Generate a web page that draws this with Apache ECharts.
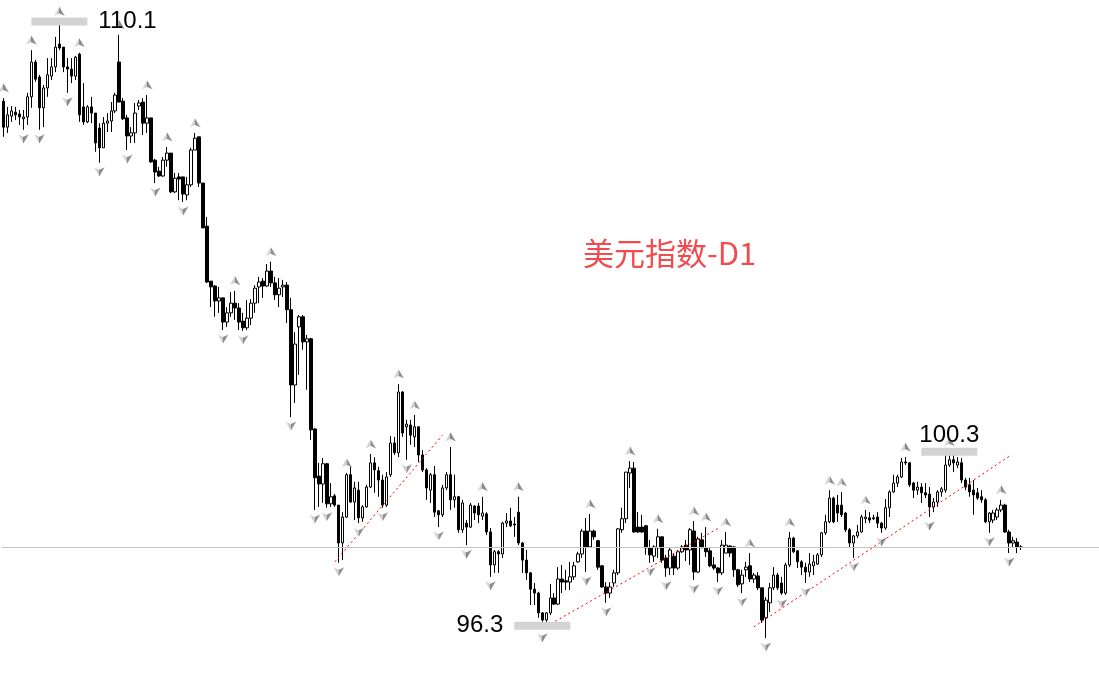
<!DOCTYPE html>
<html><head><meta charset="utf-8">
<script src="https://cdn.jsdelivr.net/npm/echarts@6/dist/echarts.min.js"></script>
<style>html,body{margin:0;padding:0;background:#fff}#chart{width:1099px;height:676px}</style>
</head><body><div id="chart"></div>
<script>
// ---- data (US Dollar Index, daily) ----
const opens = [
108.29,107.70,107.95,108.04,108.00,107.89,107.93,108.39,109.18,108.84,
108.14,108.59,108.86,109.07,109.59,109.52,109.07,109.02,108.86,109.36,
108.16,107.82,108.16,108.02,107.68,107.23,107.79,107.84,108.07,109.18,
108.29,107.91,107.50,107.57,108.18,108.27,107.79,107.91,106.95,106.70,
106.59,106.95,107.11,106.23,106.57,106.57,106.16,106.39,107.18,107.48,
106.43,105.45,104.20,104.09,103.75,103.82,103.27,103.48,103.70,103.59,
103.29,103.14,103.36,103.70,104.07,104.20,104.09,104.43,104.16,103.89,
104.07,104.11,103.55,101.84,103.16,103.39,102.82,102.89,100.84,99.77,
99.59,100.05,99.14,99.32,99.11,98.25,98.84,99.80,99.18,99.45,
98.82,99.07,99.52,100.07,99.89,99.68,99.11,99.80,100.52,100.30,
101.68,100.89,100.93,100.66,100.89,100.25,99.91,99.45,99.80,98.98,
98.89,99.50,99.80,99.23,99.30,98.55,98.70,98.61,99.09,99.09,
98.86,98.91,98.50,97.75,98.05,98.00,98.70,98.75,98.68,98.95,
98.25,97.86,97.57,97.20,97.11,96.66,96.50,96.66,97.00,96.86,
97.43,97.39,97.36,97.48,97.82,98.00,98.52,98.16,98.52,98.30,
97.73,97.25,97.11,97.34,97.57,98.55,98.80,99.84,99.95,98.61,
98.61,98.64,98.14,97.95,98.14,98.39,97.91,97.68,97.95,97.68,
98.05,98.20,98.09,98.52,97.59,98.32,98.14,98.07,97.75,97.68,
97.57,98.02,98.18,98.16,97.64,97.32,97.64,97.73,97.43,97.50,
97.23,96.55,96.89,97.23,97.52,97.34,97.11,97.75,98.36,98.07,
97.82,97.70,97.59,97.73,97.77,97.98,98.48,98.73,99.27,99.11,
99.11,98.93,98.55,98.25,98.41,98.50,98.80,98.82,98.82,98.84,
98.70,98.59,99.05,99.41,99.61,99.75,100.09,100.07,99.61,99.45,
99.52,99.39,99.36,99.07,99.18,99.41,99.45,100.02,100.14,100.02,
100.07,99.68,99.57,99.45,99.39,99.30,99.23,98.73,98.77,98.84,
99.00,99.11,98.50,98.25,98.27,98.16
];
const closes = [
107.70,107.98,108.07,107.98,107.93,107.93,108.39,109.18,108.79,108.14,
108.59,108.89,109.07,109.52,109.50,109.07,109.02,108.86,109.29,107.98,
107.82,108.16,108.02,107.34,107.23,107.79,107.84,108.07,108.43,108.27,
107.89,107.50,107.57,108.02,108.25,107.79,107.91,106.91,106.68,106.59,
106.95,107.11,106.23,106.54,106.52,106.18,106.39,107.18,107.45,106.43,
105.41,104.18,104.07,103.75,103.82,103.27,103.48,103.70,103.59,103.27,
103.14,103.36,103.70,104.04,104.18,104.09,104.43,104.16,103.89,104.04,
104.11,103.55,101.84,102.77,103.39,102.82,102.89,100.82,99.73,99.59,
100.05,99.14,99.30,99.11,98.25,98.84,99.80,99.18,99.50,98.82,
99.07,99.52,100.07,99.91,99.68,99.11,99.75,100.52,100.30,101.68,
100.75,100.95,100.70,100.89,100.25,99.91,99.50,99.80,98.95,98.89,
99.50,99.80,99.23,99.30,98.55,99.16,98.61,99.11,98.93,98.89,
98.93,98.50,97.75,98.05,98.00,98.70,98.75,98.64,98.66,98.25,
97.86,97.57,97.20,97.11,96.66,96.50,96.66,97.00,96.86,97.43,
97.36,97.36,97.48,97.73,98.00,98.52,98.16,98.52,98.39,97.70,
97.25,97.11,97.25,97.57,98.57,98.80,99.86,99.95,98.50,98.50,
98.50,98.14,97.98,98.16,98.39,97.86,97.68,98.09,97.68,98.05,
98.16,98.09,98.55,97.59,98.34,98.14,98.05,97.73,97.68,97.57,
98.20,98.20,98.02,97.64,97.30,97.52,97.70,97.43,97.52,97.23,
96.50,96.95,97.23,97.52,97.23,97.11,97.75,98.36,98.05,97.82,
97.70,97.59,97.77,97.82,97.98,98.48,98.73,99.27,98.73,98.93,
98.89,98.55,98.25,98.41,98.50,98.84,98.84,98.77,98.80,98.70,
98.59,99.05,99.41,99.61,99.75,100.09,100.07,99.57,99.45,99.52,
99.39,99.34,99.07,99.18,99.41,99.48,100.02,100.14,100.07,100.09,
99.68,99.52,99.41,99.34,99.27,99.23,98.73,98.93,98.93,99.00,
99.11,98.50,98.25,98.30,98.16,98.15
];
const lows = [
107.48,107.57,107.82,107.86,107.75,107.64,107.75,108.14,108.73,107.64,
107.70,108.39,108.77,108.95,109.45,108.95,108.48,108.70,108.77,107.82,
107.75,107.79,107.79,107.14,106.89,107.23,107.59,107.59,108.02,108.27,
107.86,107.18,107.34,107.34,108.09,107.52,107.57,106.89,106.43,106.57,
106.57,106.80,106.20,106.20,106.04,106.00,106.04,106.34,107.18,106.34,
105.41,104.16,103.61,103.39,103.48,103.09,103.16,103.39,103.32,103.09,
103.07,103.09,103.20,103.48,103.70,103.82,104.07,104.07,103.77,103.61,
103.84,103.25,101.11,101.43,102.07,102.64,101.73,100.59,99.00,99.07,
99.16,99.05,99.07,99.07,97.80,97.86,98.82,99.16,98.77,98.70,
98.73,99.05,99.50,99.39,99.30,99.05,99.07,99.75,100.25,100.20,
100.66,100.14,100.48,100.43,100.09,99.86,99.23,99.16,98.84,98.61,
98.84,99.45,99.00,99.05,98.48,98.48,98.20,98.59,98.77,98.70,
98.77,98.43,97.48,97.57,97.57,97.91,98.61,98.61,98.39,98.20,
97.57,97.41,96.84,96.84,96.55,96.30,96.45,96.61,96.84,96.84,
97.11,97.18,97.18,97.41,97.80,97.91,97.59,98.14,98.32,97.64,
97.23,96.89,97.00,97.25,97.52,98.48,98.70,99.50,98.48,98.48,
98.48,97.98,97.80,97.82,97.91,97.80,97.48,97.52,97.52,97.64,
98.02,97.84,97.75,97.41,97.57,98.14,97.93,97.70,97.64,97.36,
97.52,98.02,97.93,97.48,97.25,97.11,97.48,97.36,97.34,97.18,
96.43,96.09,96.68,97.18,97.18,97.07,97.07,97.70,98.02,97.68,
97.52,97.34,97.48,97.52,97.75,97.93,98.43,98.70,98.70,98.73,
98.84,98.50,98.16,97.91,98.36,98.48,98.70,98.70,98.77,98.59,
98.48,98.55,98.84,99.39,99.52,99.73,100.02,99.52,99.27,99.34,
99.16,99.27,98.84,98.95,99.07,99.30,99.39,99.98,99.86,99.95,
99.61,99.45,99.30,98.89,99.23,99.16,98.70,98.48,98.70,98.77,
98.95,98.48,98.02,98.16,98.02,98.09
];
const highs = [
108.36,108.16,108.18,108.16,108.09,108.09,108.48,109.45,109.23,108.89,
108.66,109.27,109.27,109.75,110.10,109.52,109.27,109.27,109.32,109.39,
108.70,108.20,108.39,108.02,107.79,107.93,108.02,108.27,108.48,109.80,
108.36,107.98,107.70,108.25,108.32,108.36,108.43,107.91,106.98,106.80,
107.02,107.25,107.11,106.66,106.66,106.57,106.57,107.23,107.57,107.48,
106.43,105.66,104.20,104.11,104.07,103.82,103.61,103.95,103.98,103.70,
103.48,103.77,103.79,104.11,104.30,104.27,104.59,104.64,104.30,104.27,
104.23,104.18,103.82,103.04,103.43,103.43,102.98,102.91,100.86,100.07,
100.18,100.07,99.61,99.36,99.11,98.95,99.84,99.98,99.64,99.64,
99.11,99.57,100.27,100.20,99.98,99.80,99.86,100.68,100.66,101.86,
101.70,101.05,101.05,101.16,100.89,100.36,99.95,99.84,100.00,99.00,
99.57,99.86,100.43,99.80,99.32,99.23,98.77,99.16,99.11,99.16,
99.30,98.95,98.59,98.09,98.09,98.73,98.93,99.05,98.84,99.30,
98.27,98.09,97.59,97.34,97.14,96.68,96.68,97.32,97.11,97.70,
97.75,97.64,97.82,97.82,98.05,98.57,98.82,98.91,98.55,98.32,
97.75,97.36,97.36,97.64,98.59,99.05,99.86,100.11,100.09,98.95,
98.89,98.66,98.32,98.20,98.57,98.39,97.98,98.14,98.02,98.09,
98.20,98.32,98.59,98.75,98.39,98.48,98.61,98.14,97.93,97.70,
98.32,98.50,98.20,98.18,97.66,97.64,97.82,98.02,97.57,97.59,
97.23,97.02,97.34,97.70,97.57,97.48,97.80,98.50,98.39,98.09,
97.86,97.80,98.02,97.98,98.02,98.50,98.89,99.45,99.30,99.34,
99.41,98.95,98.59,98.43,98.66,98.89,99.00,98.95,98.89,98.95,
98.73,99.25,99.45,99.80,99.80,100.18,100.20,100.09,99.64,99.64,
99.61,99.61,99.52,99.27,99.45,99.52,100.25,100.32,100.31,100.20,
100.18,99.73,99.73,99.68,99.50,99.45,99.27,98.95,99.00,99.05,
99.23,99.14,98.55,98.39,98.36,98.20
];
// Bill Williams fractals (bar indices)
const upFractals = [0,7,14,19,29,36,41,48,58,67,86,92,99,103,112,120,129,147,157,164,173,176,181,187,197,207,210,216,226,237,250];
const downFractals = [5,9,16,24,31,38,45,55,60,72,78,81,84,89,95,101,109,116,122,135,146,151,162,166,173,179,185,191,195,201,213,220,232,247,252];
// marked extremes
const keyLevels = [
  {index: 14,  kind: 'high', side: 'right'},
  {index: 237, kind: 'high', side: 'top'},
  {index: 135, kind: 'low',  side: 'left'}
];
// trend lines: [barIndex, price] pairs
const trendLines = [
  [[83, 97.82], [110, 100.70]],
  [[135, 96.30], [179, 98.58]],
  [[188, 96.34], [252, 100.22]]
];
const chartTitle = '美元指数-D1';

// ---- chart ----
const slots = 275;
const categories = Array.from({length: slots}, (_, i) => String(i));
const candles = opens.map((o, i) => [o, closes[i], lows[i], highs[i]]);
const lastClose = closes[closes.length - 1];
const levelValue = l => l.kind === 'high' ? highs[l.index] : lows[l.index];

const chart = echarts.init(document.getElementById('chart'), null, {renderer: 'canvas'});

function arrowGrad() {
  return new echarts.graphic.LinearGradient(0, 0, 1, 0, [
    {offset: 0, color: '#e2e2e2'},
    {offset: 0.5, color: '#c8c8c8'},
    {offset: 0.5, color: '#868686'},
    {offset: 1, color: '#a0a0a0'}
  ]);
}

const levelPoint = (l, withLabel) => ({
  coord: [l.index, levelValue(l)],
  value: levelValue(l),
  symbolOffset: l.kind === 'low' ? [0, -3] : [0, 0],
  label: withLabel ? {
    show: true,
    position: l.side,
    distance: l.side === 'top' ? 0 : 11,
    formatter: p => p.value.toFixed(1),
    color: '#000',
    fontSize: 24,
    fontFamily: 'Liberation Sans, Arial, sans-serif'
  } : {show: false}
});

const option = {
  animation: false,
  backgroundColor: '#ffffff',
  title: {
    text: chartTitle,
    left: 578,
    top: 233,
    textStyle: {color: '#f24b4f', fontSize: 31, fontWeight: 'normal', fontFamily: 'Noto Sans CJK SC'}
  },
  grid: {left: 1.5, top: 0, width: slots * 4, height: 676},
  xAxis: {type: 'category', data: categories, show: false, boundaryGap: true},
  yAxis: {type: 'value', min: 95.226, max: 110.59, show: false},
  series: [
    {
      type: 'scatter', data: [], z: 1, silent: true,
      markPoint: {
        symbol: 'rect', symbolSize: [56, 8],
        itemStyle: {color: '#d3d3d3'},
        data: keyLevels.map(l => levelPoint(l, false))
      },
      markLine: {
        silent: true, symbol: ['none', 'none'], label: {show: false},
        lineStyle: {color: '#c4c4c4', width: 1, type: 'solid'},
        data: [{yAxis: lastClose}]
      }
    },
    {
      type: 'candlestick', data: candles, z: 2, barWidth: 3, silent: true,
      itemStyle: {color: '#ffffff', color0: '#000000', borderColor: '#000000', borderColor0: '#000000', borderWidth: 1}
    },
    ...trendLines.map(t => ({
      type: 'line', data: t, z: 3, symbol: 'none', silent: true,
      lineStyle: {color: '#ff0000', width: 1, type: [2, 3]}
    })),
    {
      type: 'scatter', z: 4, silent: true,
      data: upFractals.map(i => [i, highs[i]]),
      symbol: 'path://M5 0 L10 9 L5 6.5 L0 9 Z', symbolSize: [11, 9], symbolOffset: [0, -10],
      itemStyle: {color: arrowGrad(), opacity: 1}
    },
    {
      type: 'scatter', z: 4, silent: true,
      data: downFractals.map(i => [i, lows[i]]),
      symbol: 'path://M0 0 L5 2.5 L10 0 L5 9 Z', symbolSize: [11, 9], symbolOffset: [0, 9],
      itemStyle: {color: arrowGrad(), opacity: 1}
    },
    {
      type: 'scatter', data: [], z: 5, silent: true,
      markPoint: {
        symbol: 'rect', symbolSize: [56, 8],
        itemStyle: {color: 'rgba(0,0,0,0)'},
        data: keyLevels.map(l => levelPoint(l, true))
      }
    }
  ]
};
chart.setOption(option);
</script>
</body></html>
